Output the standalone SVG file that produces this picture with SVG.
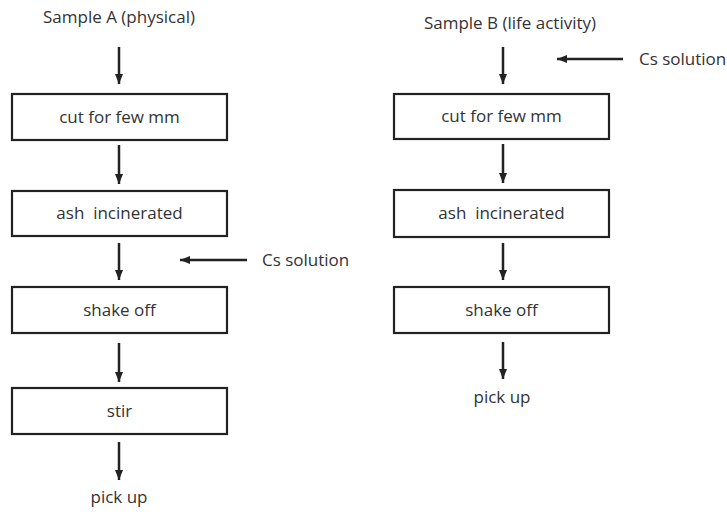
<svg xmlns="http://www.w3.org/2000/svg" width="727" height="512" viewBox="0 0 727 512">
<style>
text{font-family:"Open Sans","Liberation Sans",sans-serif;font-size:17px;fill:#333;text-anchor:middle;white-space:pre}
.box{fill:#fff;stroke:#222;stroke-width:2.2}
.c line{stroke:#222;stroke-width:2.5}
</style>
<defs>
<marker id="ah" viewBox="0 0 10 10" refX="10" refY="5" markerWidth="10" markerHeight="10" markerUnits="userSpaceOnUse" orient="auto">
<path d="M0,1 L10,5 L0,9 Z" fill="#222"/>
</marker>
</defs>
<rect width="727" height="512" fill="#fff"/>
<g id="sampleA"><text x="119" y="23">Sample A (physical)</text></g>
<g id="a1"><rect class="box" x="12" y="94" width="215" height="46"/><text x="119.5" y="123">cut for few mm</text></g>
<g id="a2"><rect class="box" x="12" y="191" width="215" height="45"/><text x="119.5" y="219" xml:space="preserve">ash  incinerated</text></g>
<g id="a3"><rect class="box" x="12" y="287" width="215" height="46"/><text x="119.5" y="316">shake off</text></g>
<g id="a4"><rect class="box" x="12" y="388" width="215" height="46"/><text x="119.5" y="417">stir</text></g>
<g id="pickA"><text x="119" y="503">pick up</text></g>
<g id="csA"><text x="262" y="266" style="text-anchor:start">Cs solution</text></g>
<g id="sampleB"><text x="510" y="29">Sample B (life activity)</text></g>
<g id="b1"><rect class="box" x="394" y="94" width="215" height="45"/><text x="501.5" y="122">cut for few mm</text></g>
<g id="b2"><rect class="box" x="394" y="190" width="215" height="47"/><text x="501.5" y="219" xml:space="preserve">ash  incinerated</text></g>
<g id="b3"><rect class="box" x="394" y="287" width="215" height="46"/><text x="501.5" y="316">shake off</text></g>
<g id="pickB"><text x="502" y="403">pick up</text></g>
<g id="csB"><text x="639" y="65" style="text-anchor:start">Cs solution</text></g>
<g class="c" id="connectors">
<line x1="119" y1="47" x2="119" y2="84" marker-end="url(#ah)"/>
<line x1="119" y1="145" x2="119" y2="184" marker-end="url(#ah)"/>
<line x1="119" y1="243" x2="119" y2="280" marker-end="url(#ah)"/>
<line x1="119" y1="343" x2="119" y2="382" marker-end="url(#ah)"/>
<line x1="119" y1="442" x2="119" y2="480" marker-end="url(#ah)"/>
<line x1="247" y1="260" x2="180" y2="260" marker-end="url(#ah)"/>
<line x1="503" y1="47" x2="503" y2="84" marker-end="url(#ah)"/>
<line x1="503" y1="144" x2="503" y2="183" marker-end="url(#ah)"/>
<line x1="503" y1="243" x2="503" y2="280" marker-end="url(#ah)"/>
<line x1="503" y1="342" x2="503" y2="379" marker-end="url(#ah)"/>
<line x1="623" y1="59" x2="557" y2="59" marker-end="url(#ah)"/>
</g>
</svg>
